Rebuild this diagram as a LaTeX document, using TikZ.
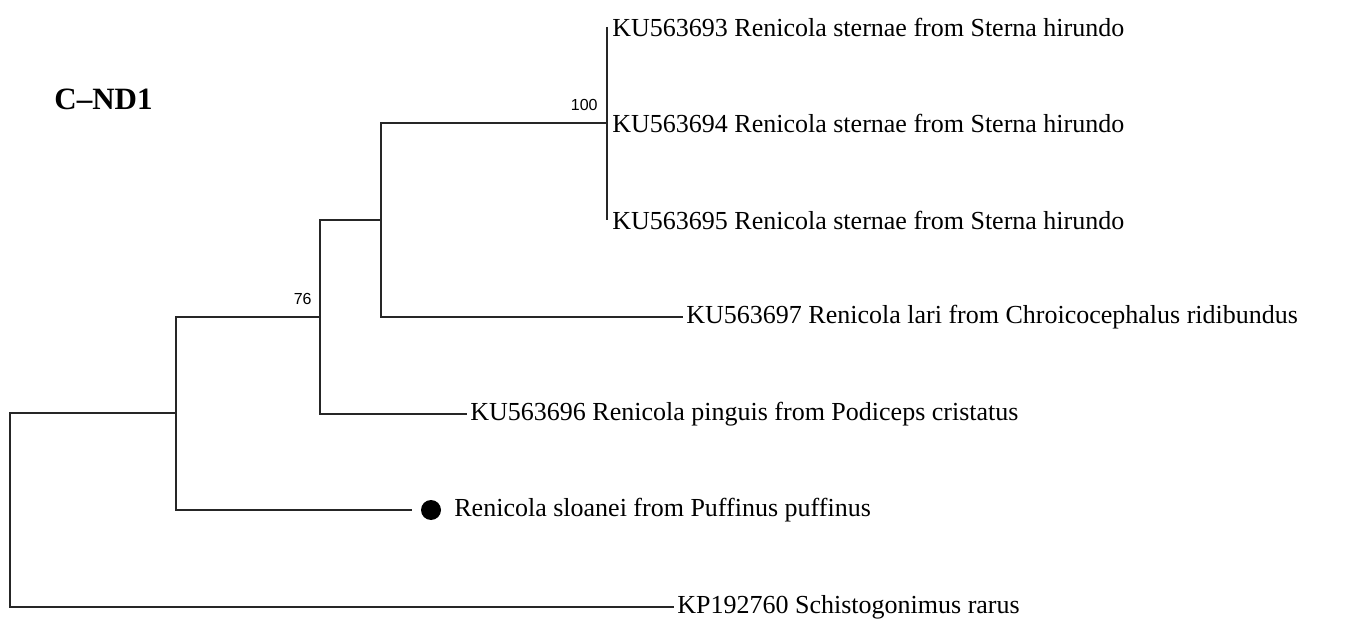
\documentclass[tikz,border=0pt]{standalone}
\usepackage{fontspec}
\setmainfont{Liberation Serif}
\newfontfamily\bootfont{Liberation Sans}
\begin{document}
\begin{tikzpicture}[x=0.5pt,y=-0.5pt,
  branch/.style={line width=1pt, draw=black!85},
  leaf/.style={anchor=west, inner xsep=1.5pt, inner ysep=0pt, font=\fontsize{13}{15}\selectfont},
  boot/.style={anchor=base east, inner sep=0pt, font=\bootfont\fontsize{8}{9}\selectfont},
  tip/.style={circle, fill=black, minimum size=10pt, inner sep=0pt}]
\useasboundingbox (0,0) rectangle (1345,620);

% internal nodes
\coordinate (root) at (10,510);
\coordinate (na) at (176,413.5);
\coordinate (nb) at (320,317);
\coordinate (nc) at (381,220);
\coordinate (nd) at (607,123);

% leaves
\node[leaf] (l1) at (609,27)  {KU563693 Renicola sternae from Sterna hirundo};
\node[leaf] (l2) at (609,123) {KU563694 Renicola sternae from Sterna hirundo};
\node[leaf] (l3) at (609,220) {KU563695 Renicola sternae from Sterna hirundo};
\node[leaf] (l4) at (683,317) {KU563697 Renicola lari from Chroicocephalus ridibundus};
\node[leaf] (l5) at (467,414) {KU563696 Renicola pinguis from Podiceps cristatus};
\node[tip]  (dot) at (431,510) {};
\node[leaf] (l6) at (451,510) {Renicola sloanei from Puffinus puffinus};
\node[leaf] (l7) at (674,607) {KP192760 Schistogonimus rarus};

% bootstrap values
\node[boot] (b100) at (598,111) {100};
\node[boot] (b76) at (312,305) {76};

% title
\node[anchor=base west, inner sep=0pt, font=\bfseries\fontsize{15.5}{18}\selectfont] (title) at (54,110) {C–ND1};

% branches
\draw[branch] (na) -- (na -| root) -- (l7.west -| root) -- (l7.west);
\draw[branch] (nb) -- (nb -| na) -- (dot.west -| na) -- ([xshift=-4.5pt]dot.west);
\draw[branch] (nc) -- (nc -| nb) -- (l5.west -| nb) -- (l5.west);
\draw[branch] (nd) -- (nd -| nc) -- (l4.west -| nc) -- (l4.west);
\draw[branch] ([xshift=-1pt]l1.west) -- ([xshift=-1pt]l3.west);
\end{tikzpicture}
\end{document}
